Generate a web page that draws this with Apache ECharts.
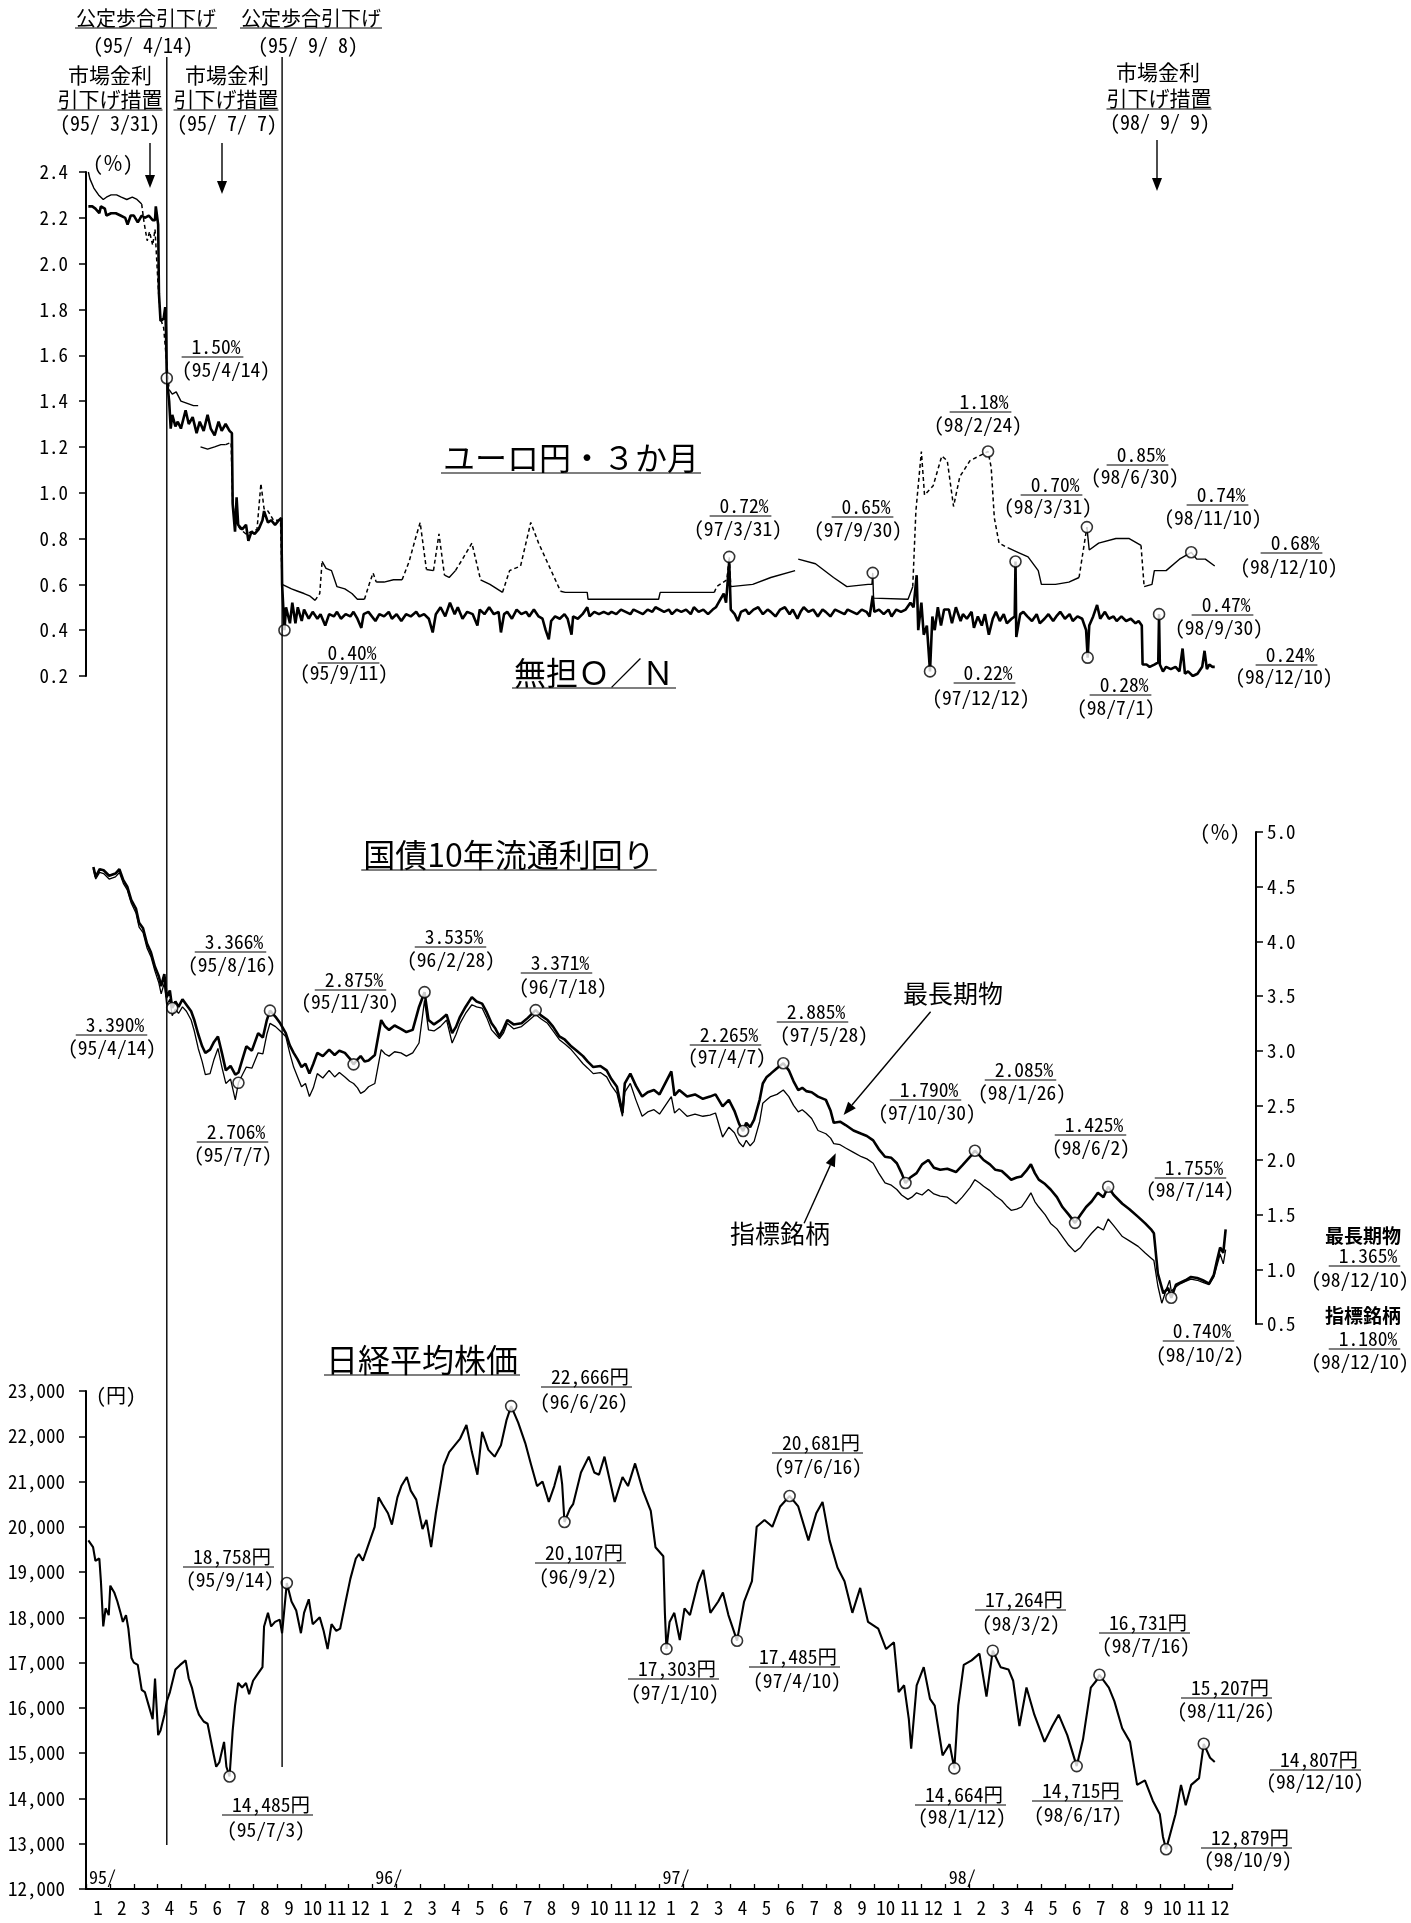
<!DOCTYPE html>
<html><head><meta charset="utf-8">
<script src="https://cdn.jsdelivr.net/npm/echarts@6/dist/echarts.min.js"></script>
<style>html,body{margin:0;padding:0;background:#fff}#c{width:1411px;height:1923px}</style>
</head><body><div id="c"></div><script>
const MONO = "'Noto Sans Mono CJK JP','Noto Sans CJK JP','Liberation Mono',monospace";
const JP = "'Noto Sans CJK JP','Noto Sans',sans-serif";

// ---------- x-axis labels ----------
const monthLabels = ['1','2','3','4','5','6','7','8','9','10','11','12',
  '1','2','3','4','5','6','7','8','9','10','11','12',
  '1','2','3','4','5','6','7','8','9','10','11','12',
  '1','2','3','4','5','6','7','8','9','10','11','12'];
const yearLabels = ['95/','96/','97/','98/'];
const yearStarts = ['1995-01-01','1996-01-01','1997-01-01','1998-01-01'];

// ---------- panel 1 : 無担O/N (thick) ----------
const onData = [
['1995-01-04',2.25],['1995-01-09',2.25],['1995-01-13',2.24],['1995-01-18',2.22],['1995-01-20',2.25],['1995-01-25',2.24],['1995-01-27',2.21],['1995-02-02',2.22],['1995-02-08',2.22],['1995-02-14',2.21],['1995-02-20',2.20],['1995-02-23',2.17],['1995-02-27',2.21],['1995-03-03',2.21],['1995-03-08',2.18],['1995-03-13',2.21],['1995-03-17',2.20],['1995-03-22',2.21],['1995-03-27',2.19],['1995-03-30',2.19],['1995-03-31',2.25],['1995-04-03',2.17],['1995-04-04',1.87],['1995-04-06',1.75],['1995-04-10',1.76],['1995-04-12',1.81],['1995-04-13',1.70],['1995-04-14',1.50],['1995-04-17',1.40],['1995-04-19',1.28],['1995-04-21',1.34],['1995-04-25',1.29],['1995-04-28',1.31],['1995-05-02',1.28],['1995-05-08',1.36],['1995-05-12',1.30],['1995-05-17',1.33],['1995-05-22',1.26],['1995-05-26',1.31],['1995-05-31',1.27],['1995-06-05',1.34],['1995-06-09',1.28],['1995-06-14',1.25],['1995-06-19',1.31],['1995-06-23',1.27],['1995-06-28',1.30],['1995-07-03',1.27],['1995-07-06',1.26],['1995-07-07',0.95],['1995-07-10',0.83],['1995-07-12',0.98],['1995-07-14',0.86],['1995-07-19',0.84],['1995-07-24',0.86],['1995-07-27',0.79],['1995-07-31',0.83],['1995-08-04',0.82],['1995-08-09',0.84],['1995-08-14',0.88],['1995-08-16',0.92],['1995-08-21',0.87],['1995-08-25',0.88],['1995-08-30',0.86],['1995-09-04',0.88],['1995-09-07',0.89],['1995-09-08',0.60],['1995-09-11',0.40],['1995-09-13',0.50],['1995-09-18',0.43],['1995-09-21',0.52],['1995-09-25',0.43],['1995-09-28',0.50],['1995-10-03',0.44],['1995-10-06',0.49],['1995-10-12',0.45],['1995-10-17',0.48],['1995-10-23',0.45],['1995-10-27',0.47],['1995-11-02',0.42],['1995-11-07',0.47],['1995-11-13',0.46],['1995-11-17',0.48],['1995-11-22',0.45],['1995-11-28',0.47],['1995-12-04',0.46],['1995-12-08',0.48],['1995-12-13',0.45],['1995-12-18',0.41],['1995-12-21',0.47],['1995-12-27',0.48],
['1996-01-05',0.44],['1996-01-10',0.47],['1996-01-16',0.46],['1996-01-22',0.48],['1996-01-26',0.45],['1996-02-01',0.47],['1996-02-07',0.44],['1996-02-13',0.47],['1996-02-19',0.46],['1996-02-26',0.48],['1996-03-01',0.46],['1996-03-07',0.47],['1996-03-13',0.45],['1996-03-18',0.39],['1996-03-22',0.47],['1996-03-28',0.50],['1996-04-03',0.46],['1996-04-09',0.52],['1996-04-15',0.47],['1996-04-19',0.50],['1996-04-25',0.45],['1996-05-01',0.48],['1996-05-08',0.47],['1996-05-14',0.42],['1996-05-17',0.49],['1996-05-23',0.47],['1996-05-29',0.50],['1996-06-04',0.47],['1996-06-10',0.48],['1996-06-13',0.39],['1996-06-17',0.47],['1996-06-21',0.48],['1996-06-27',0.45],['1996-07-03',0.49],['1996-07-09',0.47],['1996-07-15',0.48],['1996-07-19',0.46],['1996-07-25',0.49],['1996-07-31',0.46],['1996-08-05',0.45],['1996-08-09',0.40],['1996-08-13',0.36],['1996-08-16',0.44],['1996-08-21',0.46],['1996-08-27',0.45],['1996-09-02',0.47],['1996-09-06',0.45],['1996-09-11',0.38],['1996-09-13',0.46],['1996-09-19',0.45],['1996-09-25',0.47],['1996-10-01',0.50],['1996-10-04',0.46],['1996-10-10',0.48],['1996-10-16',0.47],['1996-10-22',0.48],['1996-10-28',0.47],['1996-11-01',0.48],['1996-11-07',0.47],['1996-11-13',0.49],['1996-11-19',0.48],['1996-11-25',0.47],['1996-11-29',0.49],['1996-12-05',0.48],['1996-12-11',0.47],['1996-12-17',0.49],['1996-12-23',0.48],['1996-12-27',0.50],
['1997-01-07',0.48],['1997-01-13',0.49],['1997-01-17',0.47],['1997-01-23',0.49],['1997-01-29',0.48],['1997-02-04',0.49],['1997-02-10',0.47],['1997-02-14',0.50],['1997-02-20',0.48],['1997-02-26',0.49],['1997-03-04',0.47],['1997-03-10',0.49],['1997-03-14',0.50],['1997-03-19',0.53],['1997-03-24',0.56],['1997-03-27',0.52],['1997-03-31',0.70],['1997-04-02',0.49],['1997-04-07',0.47],['1997-04-11',0.44],['1997-04-15',0.48],['1997-04-21',0.49],['1997-04-25',0.47],['1997-05-01',0.49],['1997-05-07',0.50],['1997-05-13',0.47],['1997-05-19',0.49],['1997-05-23',0.48],['1997-05-29',0.46],['1997-06-04',0.49],['1997-06-10',0.50],['1997-06-16',0.47],['1997-06-20',0.49],['1997-06-26',0.45],['1997-06-30',0.48],['1997-07-04',0.50],['1997-07-10',0.48],['1997-07-16',0.49],['1997-07-22',0.46],['1997-07-28',0.49],['1997-08-01',0.48],['1997-08-07',0.46],['1997-08-13',0.49],['1997-08-19',0.48],['1997-08-25',0.47],['1997-08-29',0.49],['1997-09-04',0.48],['1997-09-10',0.47],['1997-09-16',0.49],['1997-09-22',0.48],['1997-09-26',0.46],['1997-09-30',0.55],['1997-10-02',0.48],['1997-10-08',0.49],['1997-10-14',0.47],['1997-10-20',0.49],['1997-10-24',0.46],['1997-10-30',0.49],['1997-11-05',0.48],['1997-11-11',0.49],['1997-11-17',0.52],['1997-11-21',0.50],['1997-11-25',0.64],['1997-11-27',0.40],['1997-12-01',0.52],['1997-12-04',0.38],['1997-12-08',0.42],['1997-12-12',0.22],['1997-12-15',0.46],['1997-12-18',0.40],['1997-12-22',0.50],['1997-12-26',0.42],['1997-12-30',0.49],
['1998-01-05',0.49],['1998-01-09',0.43],['1998-01-14',0.50],['1998-01-20',0.44],['1998-01-23',0.47],['1998-01-28',0.45],['1998-02-03',0.48],['1998-02-06',0.41],['1998-02-11',0.46],['1998-02-16',0.42],['1998-02-20',0.47],['1998-02-25',0.38],['1998-03-02',0.45],['1998-03-06',0.48],['1998-03-11',0.44],['1998-03-16',0.47],['1998-03-20',0.43],['1998-03-26',0.45],['1998-03-30',0.46],['1998-03-31',0.70],['1998-04-01',0.37],['1998-04-06',0.47],['1998-04-10',0.48],['1998-04-15',0.46],['1998-04-21',0.44],['1998-04-27',0.47],['1998-05-01',0.43],['1998-05-07',0.45],['1998-05-12',0.47],['1998-05-18',0.44],['1998-05-22',0.46],['1998-05-27',0.48],['1998-06-02',0.45],['1998-06-08',0.47],['1998-06-12',0.44],['1998-06-18',0.46],['1998-06-24',0.45],['1998-06-29',0.40],['1998-07-01',0.28],['1998-07-03',0.42],['1998-07-08',0.46],['1998-07-13',0.51],['1998-07-17',0.45],['1998-07-23',0.48],['1998-07-28',0.45],['1998-08-03',0.46],['1998-08-07',0.44],['1998-08-13',0.46],['1998-08-19',0.44],['1998-08-25',0.45],['1998-08-31',0.43],['1998-09-04',0.44],['1998-09-08',0.42],['1998-09-09',0.25],['1998-09-14',0.25],['1998-09-18',0.24],['1998-09-24',0.25],['1998-09-29',0.26],['1998-09-30',0.47],['1998-10-01',0.25],['1998-10-05',0.22],['1998-10-09',0.24],['1998-10-15',0.23],['1998-10-21',0.24],['1998-10-26',0.22],['1998-10-30',0.32],['1998-11-02',0.21],['1998-11-06',0.22],['1998-11-12',0.20],['1998-11-18',0.21],['1998-11-24',0.24],['1998-11-27',0.31],['1998-11-30',0.23],['1998-12-03',0.25],['1998-12-07',0.24],['1998-12-10',0.24]
];

// ---------- panel 1 : ユーロ円3か月 (thin); 3rd item: segment to next point 0 solid / 1 dashed / 2 gap ----------
const euroyenData = [
['1995-01-04',2.40,0],['1995-01-06',2.37,0],['1995-01-11',2.33,0],['1995-01-17',2.30,0],['1995-01-23',2.28,0],['1995-01-27',2.29,0],['1995-02-02',2.30,0],['1995-02-09',2.30,0],['1995-02-15',2.29,0],['1995-02-22',2.28,0],['1995-03-01',2.29,0],['1995-03-07',2.28,0],['1995-03-13',2.26,1],['1995-03-16',2.18,1],['1995-03-20',2.10,1],['1995-03-23',2.14,1],['1995-03-27',2.08,1],['1995-03-30',2.15,1],['1995-04-03',1.90,1],['1995-04-06',1.76,1],['1995-04-10',1.72,1],['1995-04-13',1.60,1],['1995-04-17',1.45,0],['1995-04-21',1.43,0],['1995-04-26',1.44,0],['1995-05-02',1.40,0],['1995-05-10',1.39,0],['1995-05-18',1.38,0],['1995-05-24',1.38,2],
['1995-05-27',1.20,0],['1995-06-05',1.19,0],['1995-06-14',1.20,0],['1995-06-22',1.21,0],['1995-06-28',1.21,1],['1995-07-05',1.22,1],['1995-07-07',0.95,1],['1995-07-11',0.87,1],['1995-07-17',0.84,1],['1995-07-24',0.82,1],['1995-07-31',0.83,1],['1995-08-07',0.84,1],['1995-08-12',1.04,1],['1995-08-16',0.93,1],['1995-08-21',0.92,1],['1995-08-28',0.88,1],['1995-09-06',0.88,1],
['1995-09-08',0.60,0],['1995-09-14',0.59,0],['1995-09-20',0.58,0],['1995-09-28',0.57,0],['1995-10-06',0.56,0],['1995-10-13',0.55,0],['1995-10-20',0.53,1],['1995-10-26',0.56,1],['1995-10-29',0.70,0],['1995-11-03',0.67,0],['1995-11-10',0.66,0],['1995-11-17',0.59,0],['1995-11-27',0.58,0],['1995-12-06',0.56,0],['1995-12-13',0.535,0],['1995-12-22',0.535,1],['1995-12-28',0.60,1],['1996-01-02',0.65,1],['1996-01-06',0.61,0],['1996-01-16',0.61,0],['1996-01-28',0.62,0],['1996-02-08',0.62,1],['1996-02-17',0.70,1],['1996-02-25',0.80,1],['1996-03-02',0.87,1],['1996-03-10',0.665,0],['1996-03-19',0.66,1],['1996-03-26',0.82,1],['1996-04-02',0.64,0],['1996-04-08',0.63,0],['1996-04-16',0.66,1],['1996-04-25',0.71,1],['1996-05-07',0.78,1],['1996-05-18',0.62,0],['1996-05-30',0.60,0],['1996-06-15',0.565,1],['1996-06-24',0.66,1],['1996-07-08',0.68,1],['1996-07-21',0.87,1],['1996-07-31',0.78,1],['1996-08-12',0.69,1],['1996-08-28',0.57,0],['1996-09-03',0.565,0],['1996-10-01',0.565,0],['1996-10-02',0.535,0],['1996-12-31',0.535,0],['1997-01-02',0.565,0],['1997-03-12',0.565,1],['1997-03-15',0.59,1],['1997-03-28',0.62,1],['1997-03-31',0.72,1],['1997-04-02',0.59,0],['1997-04-30',0.60,0],['1997-05-23',0.63,0],['1997-06-23',0.66,2],
['1997-06-27',0.71,0],['1997-07-19',0.69,0],['1997-08-11',0.63,0],['1997-08-28',0.59,0],['1997-09-24',0.60,0],['1997-09-29',0.60,0],['1997-09-30',0.65,0],['1997-10-01',0.54,0],['1997-11-14',0.535,0],['1997-11-20',0.59,1],['1997-11-24',0.92,1],['1997-12-01',1.18,1],['1997-12-05',0.99,1],['1997-12-16',1.03,1],['1997-12-27',1.16,1],['1998-01-03',1.14,1],['1998-01-11',0.94,1],['1998-01-19',1.07,1],['1998-02-01',1.14,1],['1998-02-24',1.18,1],['1998-02-28',1.11,1],['1998-03-04',0.89,1],['1998-03-10',0.78,1],['1998-03-21',0.76,0],['1998-04-03',0.74,0],['1998-04-16',0.72,0],['1998-04-29',0.66,0],['1998-05-03',0.60,0],['1998-05-21',0.60,0],['1998-06-07',0.61,0],['1998-06-20',0.63,1],['1998-06-30',0.85,0],['1998-07-03',0.75,0],['1998-07-15',0.78,0],['1998-08-06',0.80,0],['1998-08-23',0.80,0],['1998-09-07',0.77,1],['1998-09-11',0.59,0],['1998-09-21',0.60,0],['1998-09-24',0.66,0],['1998-10-09',0.66,0],['1998-10-26',0.71,0],['1998-11-10',0.74,0],['1998-11-17',0.71,0],['1998-11-28',0.71,0],['1998-12-10',0.68,0]
];
const rateMarks = [['1995-04-14',1.50],['1995-09-11',0.40],['1997-03-31',0.72],['1997-09-30',0.65],['1997-12-12',0.22],['1998-02-24',1.18],['1998-03-31',0.70],['1998-06-30',0.85],['1998-07-01',0.28],['1998-09-30',0.47],['1998-11-10',0.74]];

// ---------- panel 2 : 国債10年 ----------
const jgbLongest = [
['1995-01-04',4.68],['1995-01-07',4.59],['1995-01-12',4.66],['1995-01-17',4.65],['1995-01-24',4.60],['1995-02-01',4.62],['1995-02-06',4.66],['1995-02-11',4.56],['1995-02-16',4.50],['1995-02-21',4.38],['1995-02-27',4.30],['1995-03-03',4.17],['1995-03-08',4.12],['1995-03-13',3.98],['1995-03-18',3.90],['1995-03-23',3.77],['1995-03-28',3.68],['1995-03-31',3.59],['1995-04-04',3.70],['1995-04-07',3.49],['1995-04-11',3.55],['1995-04-14',3.39],['1995-04-18',3.45],['1995-04-22',3.40],['1995-04-27',3.47],['1995-05-02',3.42],['1995-05-08',3.36],['1995-05-12',3.28],['1995-05-17',3.15],['1995-05-22',3.04],['1995-05-26',2.98],['1995-06-01',3.01],['1995-06-06',3.08],['1995-06-11',3.13],['1995-06-16',2.98],['1995-06-21',2.82],['1995-06-27',2.86],['1995-07-03',2.78],['1995-07-07',2.80],['1995-07-12',2.92],['1995-07-17',3.04],['1995-07-24',3.00],['1995-08-01',3.16],['1995-08-07',3.12],['1995-08-12',3.28],['1995-08-16',3.366],['1995-08-23',3.31],['1995-08-29',3.25],['1995-09-05',3.16],['1995-09-10',3.05],['1995-09-15',2.98],['1995-09-20',2.92],['1995-09-25',2.85],['1995-09-30',2.88],['1995-10-05',2.79],['1995-10-10',2.88],['1995-10-15',2.98],['1995-10-22',2.95],['1995-10-30',3.01],['1995-11-06',2.96],['1995-11-12',3.00],['1995-11-19',2.98],['1995-11-25',2.93],['1995-11-30',2.875],['1995-12-05',2.92],['1995-12-09',2.95],['1995-12-14',2.90],['1995-12-19',2.91],['1995-12-27',2.96],
['1996-01-04',3.28],['1996-01-09',3.22],['1996-01-14',3.19],['1996-01-21',3.23],['1996-01-29',3.20],['1996-02-05',3.17],['1996-02-13',3.19],['1996-02-21',3.40],['1996-02-28',3.535],['1996-03-04',3.28],['1996-03-11',3.24],['1996-03-19',3.28],['1996-03-27',3.33],['1996-04-03',3.16],['1996-04-08',3.22],['1996-04-13',3.31],['1996-04-20',3.40],['1996-04-28',3.49],['1996-05-04',3.45],['1996-05-11',3.43],['1996-05-17',3.35],['1996-05-23',3.25],['1996-05-28',3.20],['1996-06-02',3.13],['1996-06-07',3.20],['1996-06-12',3.28],['1996-06-20',3.24],['1996-06-30',3.25],['1996-07-08',3.30],['1996-07-18',3.371],['1996-07-25',3.32],['1996-08-02',3.28],['1996-08-09',3.22],['1996-08-17',3.13],['1996-08-24',3.10],['1996-09-01',3.04],['1996-09-08',3.00],['1996-09-16',2.95],['1996-09-22',2.90],['1996-09-29',2.85],['1996-10-08',2.86],['1996-10-16',2.82],['1996-10-22',2.74],['1996-10-29',2.67],['1996-11-05',2.43],['1996-11-08',2.70],['1996-11-15',2.79],['1996-11-22',2.68],['1996-11-30',2.58],['1996-12-07',2.62],['1996-12-15',2.64],['1996-12-22',2.60],
['1997-01-06',2.81],['1997-01-10',2.59],['1997-01-16',2.64],['1997-01-26',2.58],['1997-02-05',2.60],['1997-02-15',2.56],['1997-02-24',2.58],['1997-03-03',2.60],['1997-03-12',2.49],['1997-03-20',2.55],['1997-03-27',2.45],['1997-04-02',2.33],['1997-04-07',2.265],['1997-04-11',2.34],['1997-04-16',2.30],['1997-04-21',2.37],['1997-04-28',2.55],['1997-05-02',2.70],['1997-05-07',2.76],['1997-05-12',2.79],['1997-05-20',2.84],['1997-05-28',2.885],['1997-06-04',2.82],['1997-06-10',2.72],['1997-06-16',2.64],['1997-06-21',2.66],['1997-06-26',2.63],['1997-07-03',2.62],['1997-07-11',2.58],['1997-07-21',2.55],['1997-07-27',2.45],['1997-07-31',2.34],['1997-08-08',2.35],['1997-08-15',2.32],['1997-08-25',2.27],['1997-09-04',2.24],['1997-09-11',2.22],['1997-09-19',2.18],['1997-09-26',2.10],['1997-10-04',2.03],['1997-10-12',2.02],['1997-10-19',1.97],['1997-10-25',1.88],['1997-10-30',1.79],['1997-11-05',1.84],['1997-11-13',1.88],['1997-11-20',1.96],['1997-11-28',2.00],['1997-12-05',1.93],['1997-12-13',1.91],['1997-12-22',1.92],
['1998-01-02',1.89],['1998-01-10',1.95],['1998-01-20',2.03],['1998-01-26',2.085],['1998-02-01',2.04],['1998-02-06',2.00],['1998-02-14',1.96],['1998-02-21',1.91],['1998-03-01',1.90],['1998-03-07',1.86],['1998-03-13',1.82],['1998-03-20',1.84],['1998-03-26',1.85],['1998-04-01',1.90],['1998-04-07',1.96],['1998-04-12',1.88],['1998-04-17',1.82],['1998-04-25',1.78],['1998-05-02',1.73],['1998-05-10',1.66],['1998-05-17',1.57],['1998-05-25',1.50],['1998-06-02',1.425],['1998-06-09',1.50],['1998-06-16',1.57],['1998-06-23',1.62],['1998-07-01',1.70],['1998-07-08',1.66],['1998-07-14',1.755],['1998-07-21',1.68],['1998-08-01',1.60],['1998-08-10',1.55],['1998-08-21',1.48],['1998-08-30',1.42],['1998-09-07',1.36],['1998-09-10',1.33],['1998-09-15',0.96],['1998-09-22',0.78],['1998-09-28',0.83],['1998-10-02',0.74],['1998-10-08',0.86],['1998-10-14',0.88],['1998-10-20',0.90],['1998-10-27',0.93],['1998-11-04',0.92],['1998-11-11',0.90],['1998-11-19',0.87],['1998-11-25',0.95],['1998-11-29',1.08],['1998-12-03',1.20],['1998-12-07',1.15],['1998-12-10',1.365]
];
const jgbBenchmark = [
['1995-01-04',4.66],['1995-01-07',4.57],['1995-01-12',4.63],['1995-01-17',4.62],['1995-01-24',4.57],['1995-02-01',4.59],['1995-02-06',4.63],['1995-02-11',4.53],['1995-02-16',4.47],['1995-02-21',4.35],['1995-02-27',4.26],['1995-03-03',4.13],['1995-03-08',4.08],['1995-03-13',3.94],['1995-03-18',3.86],['1995-03-23',3.73],['1995-03-28',3.62],['1995-03-31',3.52],['1995-04-04',3.62],['1995-04-07',3.42],['1995-04-11',3.47],['1995-04-14',3.32],['1995-04-18',3.38],['1995-04-22',3.34],['1995-04-27',3.40],['1995-05-02',3.36],['1995-05-08',3.28],['1995-05-12',3.18],['1995-05-17',3.02],['1995-05-22',2.90],['1995-05-26',2.78],['1995-06-01',2.79],['1995-06-06',2.92],['1995-06-11',3.02],['1995-06-16',2.85],['1995-06-21',2.70],['1995-06-27',2.74],['1995-07-03',2.55],['1995-07-07',2.706],['1995-07-12',2.78],['1995-07-17',2.85],['1995-07-24',2.84],['1995-08-01',2.98],['1995-08-07',2.97],['1995-08-12',3.15],['1995-08-16',3.25],['1995-08-23',3.22],['1995-08-29',3.18],['1995-09-05',3.13],['1995-09-10',2.98],['1995-09-15',2.85],['1995-09-20',2.76],['1995-09-25',2.67],['1995-09-30',2.70],['1995-10-05',2.58],['1995-10-10',2.66],['1995-10-15',2.79],['1995-10-22',2.75],['1995-10-30',2.82],['1995-11-06',2.76],['1995-11-12',2.80],['1995-11-19',2.76],['1995-11-25',2.72],['1995-11-30',2.70],['1995-12-05',2.66],['1995-12-09',2.61],['1995-12-14',2.63],['1995-12-19',2.67],['1995-12-27',2.70],
['1996-01-04',3.01],['1996-01-09',2.97],['1996-01-14',2.95],['1996-01-21',2.99],['1996-01-29',2.98],['1996-02-05',2.95],['1996-02-13',2.98],['1996-02-21',3.07],['1996-02-28',3.46],['1996-03-04',3.19],['1996-03-11',3.18],['1996-03-19',3.22],['1996-03-27',3.28],['1996-04-03',3.07],['1996-04-08',3.15],['1996-04-13',3.25],['1996-04-20',3.34],['1996-04-28',3.42],['1996-05-04',3.40],['1996-05-11',3.39],['1996-05-17',3.30],['1996-05-23',3.19],['1996-05-28',3.15],['1996-06-02',3.11],['1996-06-07',3.16],['1996-06-12',3.25],['1996-06-20',3.20],['1996-06-30',3.22],['1996-07-08',3.27],['1996-07-18',3.33],['1996-07-25',3.29],['1996-08-02',3.25],['1996-08-09',3.18],['1996-08-17',3.10],['1996-08-24',3.06],['1996-09-01',3.01],['1996-09-08',2.95],['1996-09-16',2.88],['1996-09-22',2.84],['1996-09-29',2.79],['1996-10-08',2.80],['1996-10-16',2.76],['1996-10-22',2.68],['1996-10-29',2.61],['1996-11-05',2.40],['1996-11-08',2.62],['1996-11-15',2.70],['1996-11-22',2.55],['1996-11-30',2.40],['1996-12-07',2.44],['1996-12-15',2.46],['1996-12-22',2.42],
['1997-01-06',2.58],['1997-01-10',2.43],['1997-01-16',2.47],['1997-01-26',2.40],['1997-02-05',2.42],['1997-02-15',2.40],['1997-02-24',2.41],['1997-03-03',2.43],['1997-03-12',2.21],['1997-03-20',2.30],['1997-03-27',2.25],['1997-04-02',2.16],['1997-04-07',2.12],['1997-04-11',2.18],['1997-04-16',2.13],['1997-04-21',2.17],['1997-04-28',2.35],['1997-05-02',2.52],['1997-05-07',2.55],['1997-05-12',2.58],['1997-05-20',2.60],['1997-05-28',2.64],['1997-06-04',2.58],['1997-06-10',2.50],['1997-06-16',2.44],['1997-06-21',2.46],['1997-06-26',2.43],['1997-07-03',2.38],['1997-07-11',2.27],['1997-07-21',2.24],['1997-07-27',2.20],['1997-07-31',2.15],['1997-08-08',2.14],['1997-08-15',2.11],['1997-08-25',2.07],['1997-09-04',2.03],['1997-09-11',2.01],['1997-09-19',1.97],['1997-09-26',1.88],['1997-10-04',1.79],['1997-10-12',1.77],['1997-10-19',1.73],['1997-10-25',1.68],['1997-11-02',1.64],['1997-11-07',1.66],['1997-11-13',1.70],['1997-11-20',1.68],['1997-11-28',1.73],['1997-12-05',1.69],['1997-12-13',1.67],['1997-12-22',1.66],
['1998-01-02',1.60],['1998-01-10',1.66],['1998-01-20',1.75],['1998-01-26',1.82],['1998-02-01',1.79],['1998-02-06',1.76],['1998-02-14',1.72],['1998-02-21',1.67],['1998-03-01',1.63],['1998-03-07',1.58],['1998-03-13',1.54],['1998-03-20',1.55],['1998-03-26',1.57],['1998-04-01',1.63],['1998-04-07',1.70],['1998-04-12',1.62],['1998-04-17',1.57],['1998-04-25',1.50],['1998-05-02',1.42],['1998-05-10',1.37],['1998-05-17',1.30],['1998-05-25',1.22],['1998-06-02',1.16],['1998-06-09',1.20],['1998-06-16',1.27],['1998-06-23',1.33],['1998-07-01',1.39],['1998-07-08',1.36],['1998-07-14',1.46],['1998-07-21',1.40],['1998-08-01',1.30],['1998-08-10',1.26],['1998-08-21',1.21],['1998-08-30',1.15],['1998-09-07',1.10],['1998-09-10',1.08],['1998-09-15',0.85],['1998-09-20',0.69],['1998-09-25',0.80],['1998-09-30',0.90],['1998-10-02',0.80],['1998-10-08',0.84],['1998-10-14',0.87],['1998-10-20',0.89],['1998-10-27',0.91],['1998-11-04',0.90],['1998-11-11',0.88],['1998-11-19',0.86],['1998-11-25',0.93],['1998-12-03',1.14],['1998-12-07',1.05],['1998-12-10',1.18]
];
const jgbMarks = [['1995-04-14',3.390],['1995-07-07',2.706],['1995-08-16',3.366],['1995-11-30',2.875],['1996-02-28',3.535],['1996-07-18',3.371],['1997-04-07',2.265],['1997-05-28',2.885],['1997-10-30',1.790],['1998-01-26',2.085],['1998-06-02',1.425],['1998-07-14',1.755],['1998-10-02',0.740]];

// ---------- panel 3 : 日経平均株価 ----------
const nikkeiData = [
['1995-01-04',19700],['1995-01-10',19550],['1995-01-13',19250],['1995-01-18',19300],['1995-01-20',18800],['1995-01-23',17800],['1995-01-26',18200],['1995-01-30',18050],['1995-02-01',18700],['1995-02-06',18550],['1995-02-10',18350],['1995-02-14',18100],['1995-02-17',17900],['1995-02-21',18050],['1995-02-24',17750],['1995-02-28',17100],['1995-03-03',17000],['1995-03-08',16950],['1995-03-13',16400],['1995-03-17',16350],['1995-03-22',16050],['1995-03-27',15750],['1995-03-30',16650],['1995-04-03',15400],['1995-04-06',15500],['1995-04-11',15850],['1995-04-14',16150],['1995-04-18',16350],['1995-04-25',16850],['1995-05-01',16950],['1995-05-08',17050],['1995-05-12',16650],['1995-05-16',16450],['1995-05-22',16000],['1995-05-25',15850],['1995-05-31',15700],['1995-06-05',15650],['1995-06-09',15300],['1995-06-13',14950],['1995-06-16',14700],['1995-06-20',14800],['1995-06-26',15250],['1995-06-29',14700],['1995-07-03',14485],['1995-07-07',15500],['1995-07-10',16050],['1995-07-14',16550],['1995-07-19',16450],['1995-07-24',16550],['1995-07-28',16300],['1995-08-02',16600],['1995-08-08',16750],['1995-08-14',16900],['1995-08-16',17800],['1995-08-21',18100],['1995-08-25',17800],['1995-08-30',17900],['1995-09-05',17950],['1995-09-08',17650],['1995-09-14',18758],['1995-09-20',18350],['1995-09-26',18150],['1995-10-02',17650],['1995-10-06',18100],['1995-10-12',18400],['1995-10-17',17850],['1995-10-20',17900],['1995-10-26',18000],['1995-10-31',17700],['1995-11-05',17300],['1995-11-10',17850],['1995-11-16',17700],['1995-11-21',17750],['1995-11-28',18350],['1995-12-04',18850],['1995-12-11',19300],['1995-12-15',19400],['1995-12-20',19250],['1995-12-26',19550],
['1996-01-04',20000],['1996-01-09',20650],['1996-01-14',20500],['1996-01-21',20300],['1996-01-26',20050],['1996-02-02',20650],['1996-02-07',20900],['1996-02-14',21100],['1996-02-19',20800],['1996-02-26',20600],['1996-03-05',19950],['1996-03-10',20150],['1996-03-16',19550],['1996-03-22',20300],['1996-04-01',21350],['1996-04-08',21650],['1996-04-15',21800],['1996-04-22',21950],['1996-04-30',22250],['1996-05-07',21650],['1996-05-14',21150],['1996-05-20',22100],['1996-05-28',21700],['1996-06-05',21550],['1996-06-13',21800],['1996-06-20',22350],['1996-06-26',22666],['1996-07-05',22300],['1996-07-14',21850],['1996-07-21',21400],['1996-07-29',20900],['1996-08-05',21000],['1996-08-13',20550],['1996-08-20',20900],['1996-08-27',21350],['1996-08-30',20950],['1996-09-02',20107],['1996-09-09',20400],['1996-09-13',20500],['1996-09-23',21200],['1996-10-03',21550],['1996-10-10',21200],['1996-10-16',21150],['1996-10-23',21550],['1996-11-05',20550],['1996-11-15',21100],['1996-11-22',20900],['1996-12-01',21400],['1996-12-11',20800],['1996-12-21',20350],['1996-12-27',19550],
['1997-01-06',19350],['1997-01-08',18100],['1997-01-10',17303],['1997-01-14',17900],['1997-01-20',18100],['1997-01-27',17500],['1997-02-02',18200],['1997-02-09',18050],['1997-02-19',18750],['1997-02-26',19050],['1997-03-07',18100],['1997-03-17',18350],['1997-03-23',18550],['1997-03-30',18050],['1997-04-10',17485],['1997-04-19',18350],['1997-04-29',18800],['1997-05-05',20000],['1997-05-15',20150],['1997-05-25',20000],['1997-06-04',20450],['1997-06-16',20681],['1997-06-27',20450],['1997-07-10',19700],['1997-07-20',20300],['1997-07-28',20550],['1997-08-06',19700],['1997-08-16',19100],['1997-08-25',18800],['1997-09-04',18100],['1997-09-14',18650],['1997-09-24',17900],['1997-10-07',17750],['1997-10-17',17300],['1997-10-27',17450],['1997-11-02',16350],['1997-11-09',16500],['1997-11-15',15750],['1997-11-18',15100],['1997-11-25',16500],['1997-12-04',16900],['1997-12-12',16200],['1997-12-18',16050],['1997-12-28',14950],
['1998-01-06',15200],['1998-01-12',14664],['1998-01-17',16050],['1998-01-24',16950],['1998-02-03',17050],['1998-02-13',17200],['1998-02-22',16250],['1998-03-02',17264],['1998-03-12',16900],['1998-03-22',16850],['1998-03-28',16600],['1998-04-05',15600],['1998-04-14',16450],['1998-04-24',15850],['1998-05-07',15250],['1998-05-17',15600],['1998-05-25',15850],['1998-06-05',15400],['1998-06-17',14715],['1998-06-25',15300],['1998-07-05',16450],['1998-07-12',16600],['1998-07-16',16731],['1998-07-28',16450],['1998-08-04',16150],['1998-08-14',15550],['1998-08-24',15250],['1998-09-02',14300],['1998-09-12',14400],['1998-09-22',13950],['1998-10-01',13650],['1998-10-05',13150],['1998-10-09',12879],['1998-10-21',13650],['1998-10-28',14300],['1998-11-03',13850],['1998-11-10',14300],['1998-11-20',14450],['1998-11-26',15207],['1998-12-04',14900],['1998-12-10',14807]
];
const nikkeiMarks = [['1995-07-03',14485],['1995-09-14',18758],['1996-06-26',22666],['1996-09-02',20107],['1997-01-10',17303],['1997-04-10',17485],['1997-06-16',20681],['1998-01-12',14664],['1998-03-02',17264],['1998-06-17',14715],['1998-07-16',16731],['1998-10-09',12879],['1998-11-26',15207]];

// ---------- annotation texts (value, date) and their layout ----------
const rateNotes = [
 ['1.50%','(95/4/14)',216,347,226,370],['0.40%','(95/9/11)',352,653,344,673],['0.72%','(97/3/31)',744,506,738,529],
 ['0.65%','(97/9/30)',866,507,858,530],['1.18%','(98/2/24)',984,402,978,425],['0.70%','(98/3/31)',1055,485,1048,507],
 ['0.85%','(98/6/30)',1141,455,1135,477],['0.74%','(98/11/10)',1221,495,1213,518],['0.68%','(98/12/10)',1295,543,1289,567],
 ['0.47%','(98/9/30)',1226,605,1219,628],['0.24%','(98/12/10)',1290,655,1284,677],['0.22%','(97/12/12)',988,673,981,698],
 ['0.28%','(98/7/1)',1124,685,1116,708]];
const jgbNotes = [
 ['3.390%','(95/4/14)',115,1025,112,1048],['3.366%','(95/8/16)',234,942,232,965],['2.706%','(95/7/7)',236,1132,233,1155],
 ['2.875%','(95/11/30)',354,980,350,1002],['3.535%','(96/2/28)',454,937,451,960],['3.371%','(96/7/18)',560,963,563,987],
 ['2.265%','(97/4/7)',729,1035,727,1057],['2.885%','(97/5/28)',816,1012,824,1035],['1.790%','(97/10/30)',929,1090,927,1113],
 ['2.085%','(98/1/26)',1024,1070,1022,1093],['1.425%','(98/6/2)',1094,1125,1091,1148],['1.755%','(98/7/14)',1194,1168,1190,1190],
 ['0.740%','(98/10/2)',1202,1331,1200,1355],['1.365%','(98/12/10)',1368,1256,1360,1280],['1.180%','(98/12/10)',1368,1339,1360,1362]];
const nikkeiNotes = [
 ['18,758円','(95/9/14)',232,1557,230,1580],['14,485円','(95/7/3)',271,1805,266,1830],['22,666円','(96/6/26)',590,1377,584,1402],
 ['20,107円','(96/9/2)',584,1553,578,1577],['17,303円','(97/1/10)',677,1669,675,1693],['17,485円','(97/4/10)',798,1657,797,1681],
 ['20,681円','(97/6/16)',821,1443,818,1467],['14,664円','(98/1/12)',964,1795,962,1817],['17,264円','(98/3/2)',1024,1600,1021,1624],
 ['14,715円','(98/6/17)',1081,1791,1078,1815],['16,731円','(98/7/16)',1148,1623,1146,1646],['12,879円','(98/10/9)',1250,1838,1248,1860],
 ['15,207円','(98/11/26)',1230,1688,1226,1711],['14,807円','(98/12/10)',1319,1760,1315,1782]];

// ---------- build dashed / solid parts of Euro-yen ----------
function splitSegments(arr){
  const solid=[], dashed=[];
  for(let i=0;i<arr.length-1;i++){
    const p=arr[i], q=arr[i+1], f=p[2];
    if(f===2) continue;
    const tgt = f===0 ? solid : dashed;
    const last = tgt.length ? tgt[tgt.length-1] : null;
    if(!(last && last[0]===p[0] && last[1]!==null)){
      if(tgt.length) tgt.push([p[0], null]);
      tgt.push([p[0], p[1]]);
    }
    tgt.push([q[0], q[1]]);
  }
  return {solid, dashed};
}
const ey = splitSegments(euroyenData);

const axisBase = {
  axisLine:{show:true, lineStyle:{color:'#000', width:2}},
  axisTick:{show:true, length:7, lineStyle:{color:'#000', width:1.5}},
  splitLine:{show:false}
};
const lblBase = {fontSize:19, fontFamily:MONO, color:'#000'};
const tMin = '1995-01-01', tMax = '1999-01-01';
const markStyle = {color:'#fff', borderColor:'#000', borderWidth:1.6};

const chart = echarts.init(document.getElementById('c'), null, {renderer:'canvas'});
chart.setOption({
  animation:false,
  backgroundColor:'#fff',
  grid:[
    {left:86, top:172, width:1146, height:504},
    {left:91, top:832, width:1152, height:492},
    {left:86, top:1391, width:1146, height:498}
  ],
  xAxis:[
    {type:'time', gridIndex:0, min:tMin, max:tMax, show:false},
    {type:'time', gridIndex:1, min:tMin, max:tMax, show:false},
    {type:'time', gridIndex:2, min:tMin, max:tMax, show:false, position:'bottom'},
    {type:'category', gridIndex:2, position:'bottom', data:monthLabels, boundaryGap:true,
     axisLine:{show:true, onZero:false, lineStyle:{color:'#000', width:2}},
     axisTick:{show:true, inside:true, length:5, interval:0, lineStyle:{color:'#000', width:1.3}},
     axisLabel:Object.assign({interval:0, margin:9}, lblBase), splitLine:{show:false}}
  ],
  yAxis:[
    Object.assign({type:'value', gridIndex:0, min:0.2, max:2.4, interval:0.2,
      axisLabel:Object.assign({margin:18, formatter:v=>v.toFixed(1)}, lblBase)}, axisBase),
    Object.assign({type:'value', gridIndex:1, position:'right', offset:13, min:0.5, max:5.0, interval:0.5,
      axisLabel:Object.assign({margin:11, formatter:v=>v.toFixed(1)}, lblBase)}, axisBase),
    Object.assign({type:'value', gridIndex:2, min:12000, max:23000, interval:1000,
      axisLabel:Object.assign({margin:21, formatter:v=>v.toLocaleString('en-US')}, lblBase)}, axisBase)
  ],
  series:[
    {name:'無担O/N', type:'line', xAxisIndex:0, yAxisIndex:0, data:onData, symbol:'none', silent:true,
     lineStyle:{color:'#000', width:2.6}, z:3},
    {name:'ユーロ円', type:'line', xAxisIndex:0, yAxisIndex:0, data:ey.solid, symbol:'none', silent:true, connectNulls:false,
     lineStyle:{color:'#000', width:1.4}, z:4},
    {name:'ユーロ円(点線)', type:'line', xAxisIndex:0, yAxisIndex:0, data:ey.dashed, symbol:'none', silent:true, connectNulls:false,
     lineStyle:{color:'#000', width:1.5, type:[4,3]}, z:4},
    {name:'最長期物', type:'line', xAxisIndex:1, yAxisIndex:1, data:jgbLongest, symbol:'none', silent:true,
     lineStyle:{color:'#000', width:2.6}, z:3},
    {name:'指標銘柄', type:'line', xAxisIndex:1, yAxisIndex:1, data:jgbBenchmark, symbol:'none', silent:true,
     lineStyle:{color:'#000', width:1.3}, z:4},
    {name:'日経平均', type:'line', xAxisIndex:2, yAxisIndex:2, data:nikkeiData, symbol:'none', silent:true,
     lineStyle:{color:'#000', width:2.1}, z:3},
    {type:'scatter', xAxisIndex:0, yAxisIndex:0, data:rateMarks, symbol:'circle', symbolSize:11, silent:true, itemStyle:markStyle, z:10},
    {type:'scatter', xAxisIndex:1, yAxisIndex:1, data:jgbMarks, symbol:'circle', symbolSize:11, silent:true, itemStyle:markStyle, z:10},
    {type:'scatter', xAxisIndex:2, yAxisIndex:2, data:nikkeiMarks, symbol:'circle', symbolSize:11, silent:true, itemStyle:markStyle, z:10}
  ]
});

// ---------- graphic annotations ----------
const ctx = document.createElement('canvas').getContext('2d');
function measure(s,size,fam){ ctx.font = size+'px '+fam; return ctx.measureText(s).width; }
const G = [];
function txt(s,x,y,size,fam,extra){
  G.push({type:'text', x, y, silent:true, z:20,
    style:Object.assign({text:s, fontSize:size, fontFamily:fam, fill:'#000', align:'center', verticalAlign:'middle'}, extra||{})});
}
function ln(x1,y1,x2,y2,w){ G.push({type:'line', silent:true, z:20, shape:{x1,y1,x2,y2}, style:{stroke:'#000', lineWidth:w||1.2}}); }
function arrow(x1,y1,x2,y2,L,W){
  L=L||12; W=W||4.5;
  const a=Math.atan2(y2-y1,x2-x1), bx=x2-L*Math.cos(a), by=y2-L*Math.sin(a);
  ln(x1,y1,bx,by,1.4);
  const px=-Math.sin(a)*W, py=Math.cos(a)*W;
  G.push({type:'polygon', silent:true, z:20, shape:{points:[[x2,y2],[bx+px,by+py],[bx-px,by-py]]}, style:{fill:'#000'}});
}
function underlined(s,x,y,size,fam,padL,padR,dy,extra){
  txt(s,x,y,size,fam,extra);
  const w=measure(s,size,fam);
  ln(x-w/2-padL, y+dy, x+w/2+padR, y+dy, 1.2);
}
const NS = 19.5;
function notes(list){
  list.forEach(n=>{ underlined(n[0], n[2], n[3], NS, MONO, 10, 3, 10); txt(n[1], n[4], n[5], NS, MONO); });
}
notes(rateNotes); notes(jgbNotes); notes(nikkeiNotes);

// vertical policy lines
const xAt = d => chart.convertToPixel({xAxisIndex:0}, d);
ln(xAt('1995-04-14'), 57, xAt('1995-04-14'), 1845, 1.4);
ln(xAt('1995-09-08'), 57, xAt('1995-09-08'), 1767, 1.4);

// top annotations
underlined('公定歩合引下げ', 146, 18, 20, JP, 1, 1, 10);
txt('(95/ 4/14)', 143, 45, 20, MONO);
underlined('公定歩合引下げ', 311, 18, 20, JP, 1, 1, 10);
txt('(95/ 9/ 8)', 308, 45, 20, MONO);
txt('市場金利', 110, 75, 21, JP);
underlined('引下げ措置', 110, 99, 21, JP, 0, 0, 11);
txt('(95/ 3/31)', 110, 123, 20, MONO);
txt('市場金利', 227, 75, 21, JP);
underlined('引下げ措置', 226, 99, 21, JP, 0, 0, 11);
txt('(95/ 7/ 7)', 227, 123, 20, MONO);
txt('市場金利', 1158, 72, 21, JP);
underlined('引下げ措置', 1159, 98, 21, JP, 0, 0, 11);
txt('(98/ 9/ 9)', 1160, 122, 20, MONO);
arrow(150,143,150,188,13,5);
arrow(222,143,222,194,13,5);
arrow(1157,140,1157,191,13,5);

// titles
underlined('ユーロ円・３か月', 571, 458, 32, JP, 2, 2, 15);
underlined('無担Ｏ／Ｎ', 594, 673, 32, JP, 2, 2, 15);
underlined('国債10年流通利回り', 509, 855, 32, JP, 2, 2, 15);
underlined('日経平均株価', 422, 1360, 32, JP, 2, 2, 15);

// units
txt('(％)', 113, 163, 20, MONO);
txt('(％)', 1220, 832, 20, MONO);
txt('(円)', 116, 1395, 20, MONO);

// JGB series labels
txt('最長期物', 953, 993, 25, JP);
arrow(930.6,1011.7,843.6,1115,13,5);
txt('指標銘柄', 780, 1233, 25, JP);
arrow(804.1,1223.3,835.7,1153.3,13,5);
txt('最長期物', 1363, 1236, 19, JP, {fontWeight:'bold'});
txt('指標銘柄', 1363, 1316, 19, JP, {fontWeight:'bold'});

// year labels on the axis
yearLabels.forEach((s,i)=>{
  const x = chart.convertToPixel({xAxisIndex:2}, yearStarts[i]) + 3;
  txt(s, x, 1877, 18, MONO, {align:'left'});
});

chart.setOption({graphic:{elements:G}});
</script></body></html>
